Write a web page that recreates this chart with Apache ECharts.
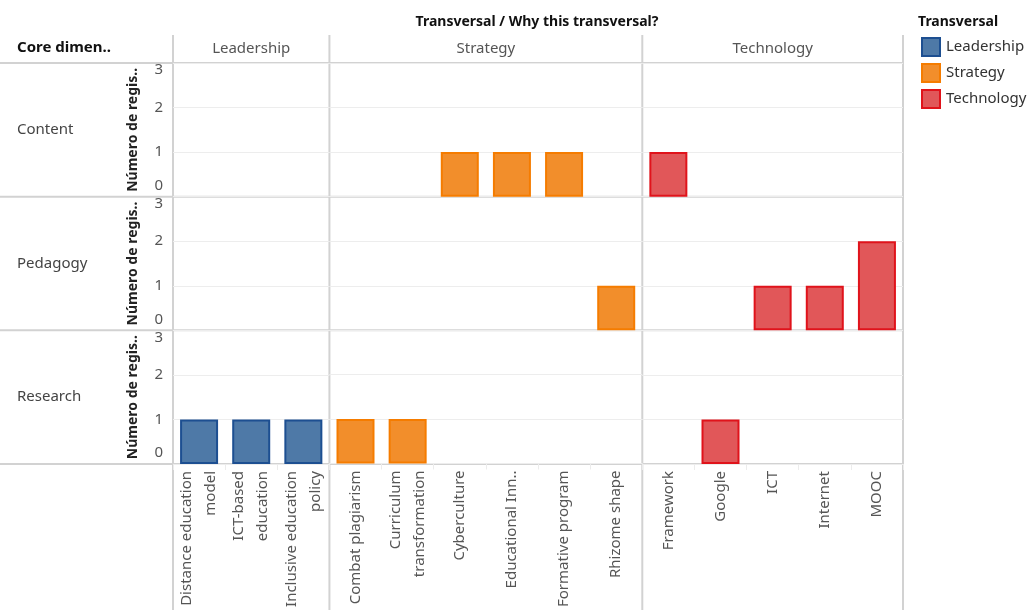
<!DOCTYPE html>
<html>
<head>
<meta charset="utf-8">
<script src="https://cdn.jsdelivr.net/npm/echarts@6/dist/echarts.min.js"></script>
<style>
  html, body { margin: 0; padding: 0; background: #fff; }
  #chart { width: 1030px; height: 610px; }
</style>
</head>
<body>
<div id="chart"></div>
<script>
// transversal groups and their categories (why this transversal?)
const groups = ['Leadership', 'Strategy', 'Technology']
const leadershipCats = ['Distance education\nmodel', 'ICT-based\neducation', 'Inclusive education\npolicy']
const strategyCats = ['Combat plagiarism', 'Curriculum\ntransformation', 'Cyberculture', 'Educational Inn..', 'Formative program', 'Rhizome shape']
const technologyCats = ['Framework', 'Google', 'ICT', 'Internet', 'MOOC']

// core dimensions (rows)
const dimensions = ['Content', 'Pedagogy', 'Research']

// Número de registros per category, in the order above (14 categories)
const contentCounts  = [null, null, null,  null, null, 1, 1, 1, null,  1, null, null, null, null]
const pedagogyCounts = [null, null, null,  null, null, null, null, null, 1,  null, null, 1, 1, 2]
const researchCounts = [1, 1, 1,  1, 1, null, null, null, null,  null, 1, null, null, null]

const yTicks = [0, 1, 2, 3]

const groupCats = [leadershipCats, strategyCats, technologyCats]
const rowCounts = [contentCounts, pedagogyCounts, researchCounts]

const fills = ['#4e79a7', '#f28e2b', '#e15759']
const borders = ['#1d4f91', '#f57c00', '#e0131b']

const FONT = 'Noto Sans'
const plotL = 173, plotR = 903, plotT = 63, plotB = 464, headT = 35
const nCat = groupCats.reduce((s, g) => s + g.length, 0)
const catW = (plotR - plotL) / nCat
const rowH = (plotB - plotT) / dimensions.length
const lineColor = '#d2d2d2'

const chart = echarts.init(document.getElementById('chart'), null, { renderer: 'canvas' })

const grids = [], xAxes = [], yAxes = [], series = []
const colLefts = []
let start = 0
groupCats.forEach((cats, c) => {
  colLefts.push(plotL + start * catW)
  dimensions.forEach((dim, r) => {
    const idx = grids.length
    const bottomRow = r === dimensions.length - 1
    grids.push({
      left: plotL + start * catW,
      top: plotT + r * rowH,
      width: cats.length * catW,
      height: rowH,
    })
    xAxes.push({
      type: 'category',
      gridIndex: idx,
      data: cats,
      axisLine: { show: false },
      axisTick: {
        show: bottomRow,
        length: 6,
        lineStyle: { color: '#ececec' },
      },
      axisLabel: {
        show: bottomRow,
        interval: 0,
        rotate: 90,
        margin: 7,
        fontFamily: FONT,
        fontSize: 15,
        lineHeight: 24,
        color: '#555',
      },
    })
    yAxes.push({
      type: 'value',
      gridIndex: idx,
      min: yTicks[0],
      max: yTicks[yTicks.length - 1],
      interval: 1,
      axisLine: { show: false },
      axisTick: { show: false },
      splitLine: { lineStyle: { color: '#ededed', width: 1 } },
      axisLabel: {
        show: c === 0,
        margin: 10,
        fontFamily: FONT,
        fontSize: 15,
        color: '#555',
        formatter(v) {
          if (v === yTicks[yTicks.length - 1]) return '{top|' + v + '}'
          if (v === yTicks[0]) return '{bot|' + v + '}'
          return String(v)
        },
        rich: {
          top: { fontFamily: FONT, fontSize: 15, color: '#555', padding: [14, 0, 0, 0] },
          bot: { fontFamily: FONT, fontSize: 15, color: '#555', padding: [0, 0, 22, 0] },
        },
      },
      name: c === 0 ? 'Número de regis..' : '',
      nameLocation: 'middle',
      nameRotate: 90,
      nameGap: 33,
      nameTextStyle: { fontFamily: FONT, fontSize: 14, fontWeight: 'bold', color: '#222' },
    })
    series.push({
      name: groups[c],
      type: 'bar',
      xAxisIndex: idx,
      yAxisIndex: idx,
      data: rowCounts[r].slice(start, start + cats.length),
      barWidth: 38,
      itemStyle: { color: fills[c], borderColor: borders[c], borderWidth: 2 },
      emphasis: { disabled: true },
    })
  })
  start += cats.length
})

// frame lines and header texts
const graphics = []
const hLine = (y, x1, x2) => graphics.push({
  type: 'line', shape: { x1, y1: y, x2, y2: y }, style: { stroke: lineColor, lineWidth: 2 }, silent: true,
})
const vLine = (x, y1, y2) => graphics.push({
  type: 'line', shape: { x1: x, y1, x2: x, y2 }, style: { stroke: lineColor, lineWidth: 2 }, silent: true,
})
for (let r = 0; r <= dimensions.length; r++) hLine(plotT + r * rowH, 0, plotR)
colLefts.concat([plotR]).forEach(x => vLine(x, headT, 610))

graphics.push({
  type: 'text', left: 17, top: 40,
  style: { text: 'Core dimen..', font: 'bold 15px "Noto Sans"', fill: '#111' },
})
groups.forEach((g, c) => {
  const x1 = colLefts[c], x2 = c + 1 < colLefts.length ? colLefts[c + 1] : plotR
  graphics.push({
    type: 'text', x: (x1 + x2) / 2, y: 49,
    style: { text: g, font: '15px "Noto Sans"', fill: '#555', align: 'center', verticalAlign: 'middle' },
  })
})
dimensions.forEach((d, r) => {
  graphics.push({
    type: 'text', x: 17, y: plotT + (r + 0.5) * rowH,
    style: { text: d, font: '15px "Noto Sans"', fill: '#444', verticalAlign: 'middle' },
  })
})
graphics.push({
  type: 'text', x: 537, y: 22,
  style: { text: 'Transversal / Why this transversal?', font: 'bold 14px "Noto Sans"', fill: '#111', align: 'center', verticalAlign: 'middle' },
})
graphics.push({
  type: 'text', x: 918, y: 22,
  style: { text: 'Transversal', font: 'bold 14px "Noto Sans"', fill: '#111', verticalAlign: 'middle' },
})

chart.setOption({
  animation: false,
  textStyle: { fontFamily: FONT },
  legend: {
    data: groups,
    orient: 'vertical',
    left: 921,
    top: 37,
    padding: 0,
    icon: 'rect',
    itemWidth: 18,
    itemHeight: 18,
    itemGap: 6,
    textStyle: { fontFamily: FONT, fontSize: 15, color: '#333', padding: [0, 0, 0, 1] },
  },
  grid: grids,
  xAxis: xAxes,
  yAxis: yAxes,
  series,
  graphic: graphics,
})
</script>
</body>
</html>
